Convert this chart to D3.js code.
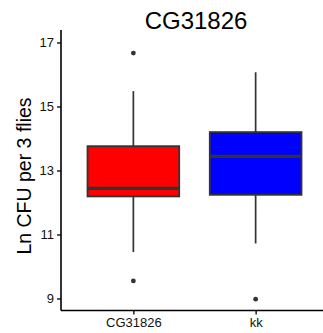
<!DOCTYPE html>
<html>
<head>
<meta charset="utf-8">
<script src="https://cdn.jsdelivr.net/npm/d3@7"></script>
<style>
  body { margin: 0; background: #fff; }
  text { font-family: "Liberation Sans", Arial, sans-serif; }
</style>
</head>
<body>
<div id="chart"></div>
<script>
// groups and their box stats
var groups = ["CG31826", "kk"];
var fills = ["#ff0000", "#0000ff"];
var lowerWhisker = [10.45, 10.72];
var q1 = [12.19, 12.24];
var median = [12.44, 13.44];
var q3 = [13.76, 14.2];
var upperWhisker = [15.48, 16.07];
var outliers = [[16.67, 9.55], [8.98]];
var yTicks = [9, 11, 13, 15, 17];

var svgWidth = 323, svgHeight = 333;

var svg = d3.select("#chart").append("svg")
  .attr("width", svgWidth)
  .attr("height", svgHeight);

var stats = groups.map(function (g, i) {
  return {
    key: g, pos: i + 1, fill: fills[i],
    lo: lowerWhisker[i], q1: q1[i], med: median[i], q3: q3[i], hi: upperWhisker[i],
    out: outliers[i]
  };
});

// scales
var x = d3.scaleLinear().domain([0.4, 2.6]).range([60, 329]);
var y = d3.scaleLinear().domain([9, 17]).range([298.5, 42.5]);
var boxWidth = x(1.375) - x(0.625);

var panelLeft = 61, panelBottom = 310.5, panelRight = 323;

// y axis
var yAxis = svg.append("g")
  .attr("transform", "translate(" + panelLeft + ",0)")
  .call(d3.axisLeft(y).tickValues(yTicks).tickSize(4).tickPadding(3));
yAxis.select(".domain").remove();
yAxis.selectAll(".tick line").attr("stroke", "#000").attr("stroke-width", 1.3);
yAxis.selectAll(".tick text").attr("font-size", 13).attr("fill", "#111")
  .style("font-family", "Liberation Sans, Arial, sans-serif");

// x axis
var xAxis = svg.append("g")
  .attr("transform", "translate(0," + panelBottom + ")")
  .call(d3.axisBottom(x).tickValues([1, 2]).tickFormat(function (d) { return groups[d - 1]; })
    .tickSize(4).tickPadding(3));
xAxis.select(".domain").remove();
xAxis.selectAll(".tick line").attr("stroke", "#000").attr("stroke-width", 1.3);
xAxis.selectAll(".tick text").attr("font-size", 13).attr("fill", "#111")
  .style("font-family", "Liberation Sans, Arial, sans-serif");

// axis lines
svg.append("line")
  .attr("x1", panelLeft).attr("x2", panelLeft)
  .attr("y1", 30).attr("y2", panelBottom)
  .attr("stroke", "#000").attr("stroke-width", 1.6);
svg.append("line")
  .attr("x1", panelLeft).attr("x2", panelRight)
  .attr("y1", panelBottom).attr("y2", panelBottom)
  .attr("stroke", "#000").attr("stroke-width", 1.6);

var boxes = svg.append("g");

// whiskers
boxes.selectAll("upperWhisker")
  .data(stats).enter().append("line")
  .attr("x1", function (d) { return x(d.pos); })
  .attr("x2", function (d) { return x(d.pos); })
  .attr("y1", function (d) { return y(d.q3); })
  .attr("y2", function (d) { return y(d.hi); })
  .attr("stroke", "#333").attr("stroke-width", 1.7);
boxes.selectAll("lowerWhisker")
  .data(stats).enter().append("line")
  .attr("x1", function (d) { return x(d.pos); })
  .attr("x2", function (d) { return x(d.pos); })
  .attr("y1", function (d) { return y(d.q1); })
  .attr("y2", function (d) { return y(d.lo); })
  .attr("stroke", "#333").attr("stroke-width", 1.7);

// boxes
boxes.selectAll("rect")
  .data(stats).enter().append("rect")
  .attr("x", function (d) { return x(d.pos) - boxWidth / 2; })
  .attr("y", function (d) { return y(d.q3); })
  .attr("width", boxWidth)
  .attr("height", function (d) { return y(d.q1) - y(d.q3); })
  .attr("fill", function (d) { return d.fill; })
  .attr("stroke", "#333").attr("stroke-width", 1.8);

// medians
boxes.selectAll("medianLine")
  .data(stats).enter().append("line")
  .attr("x1", function (d) { return x(d.pos) - boxWidth / 2; })
  .attr("x2", function (d) { return x(d.pos) + boxWidth / 2; })
  .attr("y1", function (d) { return y(d.med); })
  .attr("y2", function (d) { return y(d.med); })
  .attr("stroke", "#333").attr("stroke-width", 3.4);

// outliers
var outPts = [];
stats.forEach(function (d) { d.out.forEach(function (v) { outPts.push({ pos: d.pos, v: v }); }); });
boxes.selectAll("circle")
  .data(outPts).enter().append("circle")
  .attr("cx", function (d) { return x(d.pos); })
  .attr("cy", function (d) { return y(d.v); })
  .attr("r", 2.4)
  .attr("fill", "#333");

// title
svg.append("text")
  .attr("x", 196).attr("y", 29)
  .attr("text-anchor", "middle")
  .attr("font-size", 24)
  .attr("fill", "#000")
  .text("CG31826");

// y label
svg.append("text")
  .attr("transform", "translate(31,176) rotate(-90)")
  .attr("text-anchor", "middle")
  .attr("font-size", 19.5)
  .attr("fill", "#000")
  .text("Ln CFU per 3 flies");
</script>
</body>
</html>
